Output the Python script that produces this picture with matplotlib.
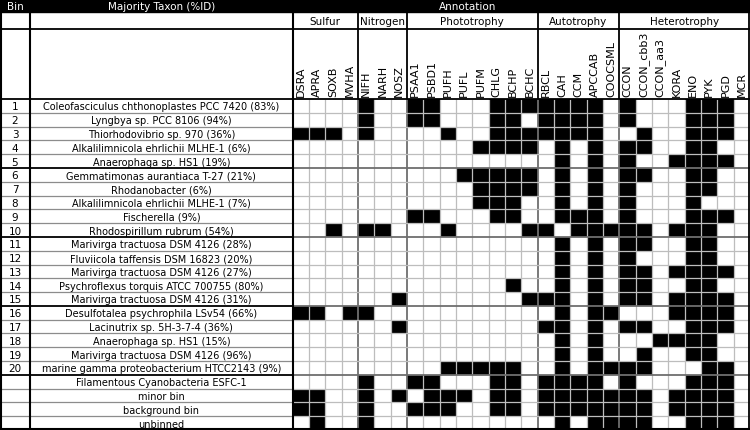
#! /usr/bin/env python

'''
Gene annotation table of the metagenome bins, drawn as a black/white grid.
'''

import numpy as np
import matplotlib
matplotlib.use('Agg')
import matplotlib.pyplot as plt
from matplotlib.colors import ListedColormap
from matplotlib.patches import Rectangle

bins = ['1', '2', '3', '4', '5', '6', '7', '8', '9', '10',
        '11', '12', '13', '14', '15', '16', '17', '18', '19', '20',
        '', '', '', '']

taxa = [
    'Coleofasciculus chthonoplastes PCC 7420 (83%)',
    'Lyngbya sp. PCC 8106 (94%)',
    'Thiorhodovibrio sp. 970 (36%)',
    'Alkalilimnicola ehrlichii MLHE-1 (6%)',
    'Anaerophaga sp. HS1 (19%)',
    'Gemmatimonas aurantiaca T-27 (21%)',
    'Rhodanobacter (6%)',
    'Alkalilimnicola ehrlichii MLHE-1 (7%)',
    'Fischerella (9%)',
    'Rhodospirillum rubrum (54%)',
    'Marivirga tractuosa DSM 4126 (28%)',
    'Fluviicola taffensis DSM 16823 (20%)',
    'Marivirga tractuosa DSM 4126 (27%)',
    'Psychroflexus torquis ATCC 700755 (80%)',
    'Marivirga tractuosa DSM 4126 (31%)',
    'Desulfotalea psychrophila LSv54 (66%)',
    'Lacinutrix sp. 5H-3-7-4 (36%)',
    'Anaerophaga sp. HS1 (15%)',
    'Marivirga tractuosa DSM 4126 (96%)',
    'marine gamma proteobacterium HTCC2143 (9%)',
    'Filamentous Cyanobacteria ESFC-1',
    'minor bin',
    'background bin',
    'unbinned',
]

groups = ['Sulfur', 'Nitrogen', 'Phototrophy', 'Autotrophy', 'Heterotrophy']
genes = [
    ['DSRA', 'APRA', 'SOXB', 'MVHA'],
    ['NIFH', 'NARH', 'NOSZ'],
    ['PSAA1', 'PSBD1', 'PUFH', 'PUFL', 'PUFM', 'CHLG', 'BCHP', 'BCHC'],
    ['RBCL', 'CAH', 'CCM', 'APCCAB', 'COOCSML'],
    ['CCON', 'CCON_cbb3', 'CCON_aa3', 'KORA', 'ENO', 'PYK', 'PGD', 'MCR'],
]

# presence (1) / absence (0), one string per bin, blocks in group order
presence = [
    '0000 100 11000111 11110 10001110',
    '0000 100 11000110 11110 10001110',
    '1110 100 00100111 11110 01001110',
    '0000 000 00001111 01010 11001100',
    '0000 000 00000000 01010 10011110',
    '0000 000 00011111 01010 11001100',
    '0000 000 00001111 01010 10001100',
    '0000 000 00001110 01010 10001000',
    '0000 000 11000110 01110 10001110',
    '0010 110 00100001 10111 11011100',
    '0000 000 00000000 01010 11001100',
    '0000 000 00000000 01010 10001100',
    '0000 000 00000000 01010 11011110',
    '0000 000 00000010 01010 11001100',
    '0000 001 00000001 11010 11011110',
    '1101 100 00000000 01011 00011110',
    '0000 001 00000000 11010 11001110',
    '0000 000 00000000 01010 00111100',
    '0000 000 00000000 01010 01001100',
    '0000 000 00111110 01011 11000110',
    '0000 100 11000110 11110 10001110',
    '1100 101 01110110 11111 11011110',
    '1100 100 11100110 11111 11011110',
    '0100 100 00000000 01011 11001110',
]


def make_matrix(rows):
    '''
    Turn the presence strings into a 2d array.
    '''
    return np.array([[int(c) for c in r.replace(' ', '')] for r in rows])


def plot_table():
    '''
    Draw the whole table on a pixel-scaled axes.
    '''
    W, H = 750, 431
    head_h, group_h, label_h = 13, 30, 100
    bin_x, grid_x = 30, 292.7

    data = make_matrix(presence)
    n_rows, n_cols = data.shape
    gene_names = [g for grp in genes for g in grp]
    bounds = np.cumsum([0] + [len(g) for g in genes])

    fig = plt.figure(figsize=(7.5, 4.31), dpi=100)
    ax = fig.add_axes([0, 0, 1, 1])
    ax.set_xlim(0, W)
    ax.set_ylim(H, 0)
    ax.axis('off')

    xe = np.linspace(grid_x, W, n_cols + 1)
    ye = np.linspace(label_h, H, n_rows + 1)
    ax.pcolormesh(xe, ye, data, cmap=ListedColormap(['white', 'black']),
                  vmin=0, vmax=1)

    # grid lines inside the cell area
    for i, x in enumerate(xe[1:-1], 1):
        if i in bounds:
            ax.vlines(x, label_h, H, color='#6e6e6e', lw=1.3)
        else:
            ax.vlines(x, label_h, H, color='#bdbdbd', lw=0.9)
    for j, y in enumerate(ye[1:-1], 1):
        if j % 5 == 0:
            ax.hlines(y, grid_x, W, color='#6e6e6e', lw=1.3)
            ax.hlines(y, 0, grid_x, color='black', lw=1.3)
        else:
            ax.hlines(y, grid_x, W, color='#bdbdbd', lw=0.9)
            ax.hlines(y, 0, grid_x, color='#8c8c8c', lw=0.9)

    # header bar
    ax.add_patch(Rectangle((0, 0), W, head_h, color='black'))
    ax.text(bin_x / 2, head_h / 2, 'Bin', color='white', fontsize=7.5,
            ha='center', va='center')
    ax.text((bin_x + grid_x) / 2, head_h / 2, 'Majority Taxon (%ID)',
            color='white', fontsize=7.5, ha='center', va='center')
    ax.text(468, head_h / 2, 'Annotation', color='white', fontsize=7.5,
            ha='center', va='center')

    # group and gene label rows
    for k, grp in enumerate(groups):
        x0, x1 = xe[bounds[k]], xe[bounds[k + 1]]
        ax.text((x0 + x1) / 2, (head_h + group_h) / 2 + 0.5, grp,
                fontsize=7.5, ha='center', va='center')
        ax.vlines(x0, head_h, label_h, color='black', lw=1.3)
    for i, g in enumerate(gene_names):
        ax.text((xe[i] + xe[i + 1]) / 2, label_h - 3, g, rotation=90,
                fontsize=8, ha='center', va='bottom')

    # row texts
    for j in range(n_rows):
        yc = (ye[j] + ye[j + 1]) / 2 + 0.5
        ax.text(bin_x / 2, yc, bins[j], fontsize=7.5, ha='center',
                va='center')
        ax.text((bin_x + grid_x) / 2, yc, taxa[j], fontsize=7,
                ha='center', va='center')

    # outer and section borders
    ax.hlines([group_h, label_h], 0, W, color='black', lw=1.3)
    ax.hlines(H - 0.6, 0, W, color='black', lw=1.5)
    ax.vlines([0.6, bin_x], head_h, H, color='black', lw=1.5)
    ax.vlines(grid_x, head_h, H, color='black', lw=1.5)
    ax.vlines(W - 0.6, head_h, H, color='black', lw=1.3)

    fig.savefig('out.png', dpi=100)


if __name__ == '__main__':
    plot_table()
